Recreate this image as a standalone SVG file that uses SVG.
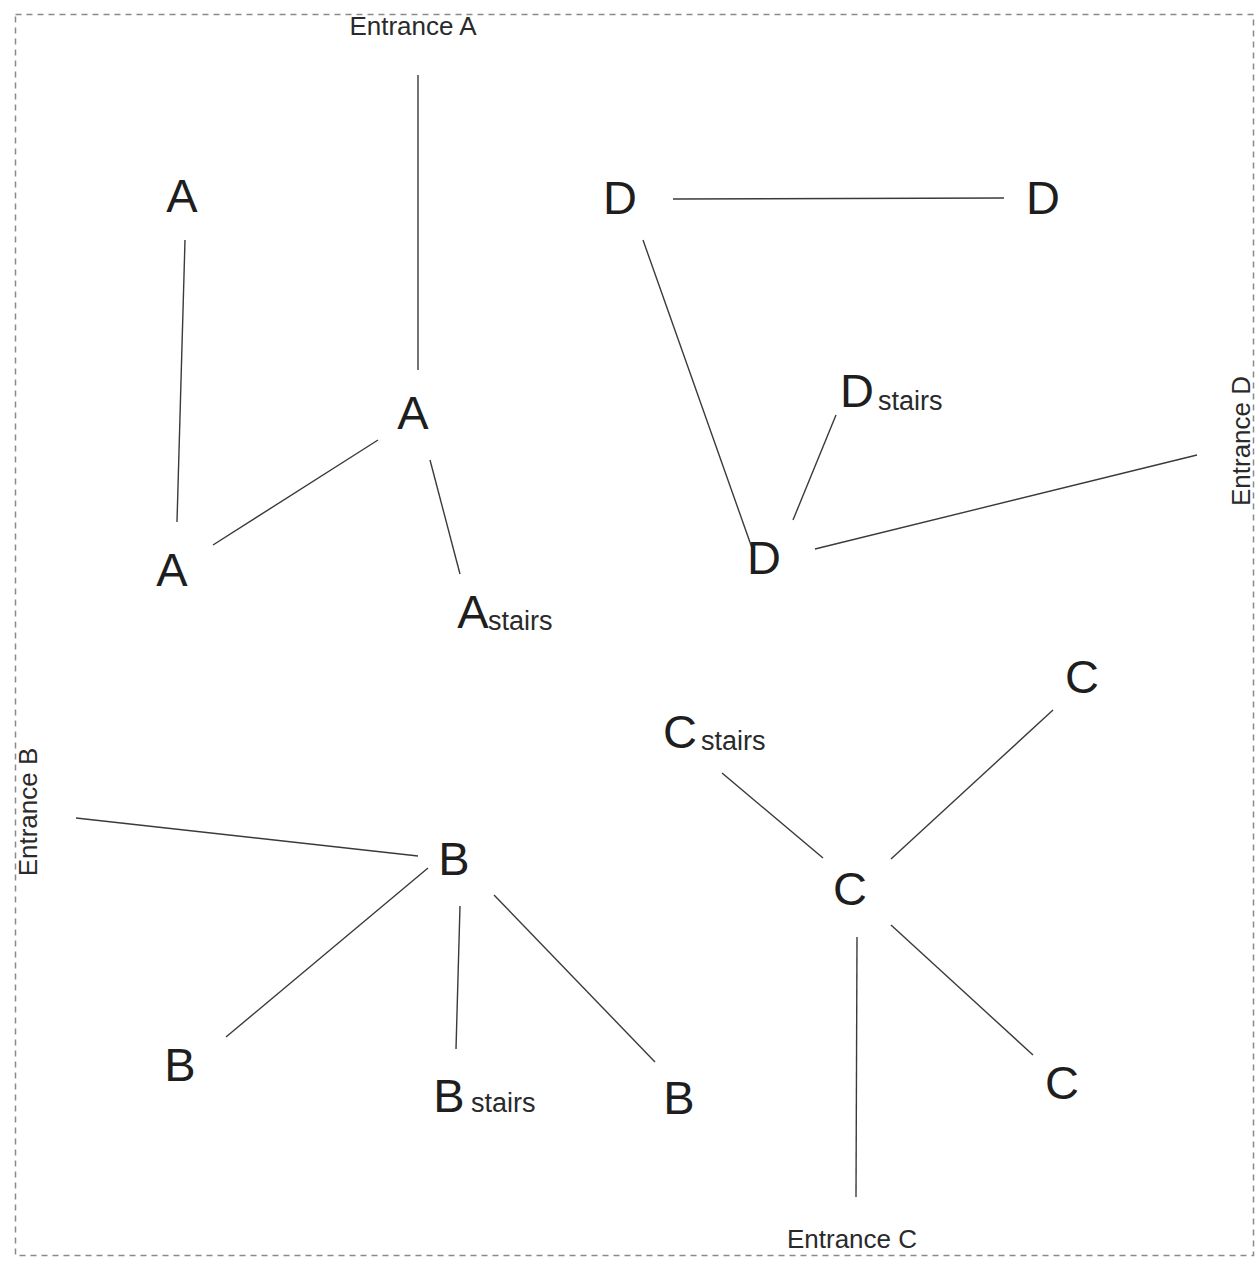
<svg xmlns="http://www.w3.org/2000/svg" width="1259" height="1263" viewBox="0 0 1259 1263">
<style>
.big{font-family:"Liberation Sans",Arial,sans-serif;font-size:47px;fill:#1e1e1e;text-anchor:middle}
.sub{font-family:"Liberation Sans",Arial,sans-serif;font-size:27px;fill:#2a2a2a}
.lbl{font-family:"Liberation Sans",Arial,sans-serif;font-size:26px;fill:#2a2a2a;text-anchor:middle}
.edge{stroke:#3a3a3a;stroke-width:1.4;fill:none}
</style>
<rect x="0" y="0" width="1259" height="1263" fill="#ffffff"/>
<rect x="15.5" y="14.5" width="1238" height="1241" fill="none" stroke="#8a8a8a" stroke-width="1.5" stroke-dasharray="6 5"/>
<g id="connectors">
<line class="edge" x1="418" y1="75" x2="418" y2="370"/>
<line class="edge" x1="185" y1="240" x2="177" y2="522"/>
<line class="edge" x1="213" y1="545" x2="378" y2="440"/>
<line class="edge" x1="430" y1="460" x2="460" y2="574"/>
<line class="edge" x1="673" y1="199" x2="1004" y2="198"/>
<line class="edge" x1="643" y1="240" x2="752" y2="548"/>
<line class="edge" x1="836" y1="415" x2="793" y2="520"/>
<line class="edge" x1="815" y1="549" x2="1197" y2="455"/>
<line class="edge" x1="722" y1="773" x2="823" y2="858"/>
<line class="edge" x1="1053" y1="710" x2="891" y2="859"/>
<line class="edge" x1="891" y1="925" x2="1033" y2="1055"/>
<line class="edge" x1="857" y1="937" x2="856" y2="1197"/>
<line class="edge" x1="76" y1="818" x2="418" y2="856"/>
<line class="edge" x1="428" y1="868" x2="226" y2="1037"/>
<line class="edge" x1="460" y1="906" x2="456" y2="1049"/>
<line class="edge" x1="494" y1="895" x2="655" y2="1062"/>
</g>
<g id="entranceA"><text class="lbl" x="413" y="35">Entrance A</text></g>
<g id="entranceB"><text class="lbl" transform="translate(37,812) rotate(-90)" x="0" y="0">Entrance B</text></g>
<g id="entranceC"><text class="lbl" x="852" y="1248">Entrance C</text></g>
<g id="entranceD"><text class="lbl" transform="translate(1250,441) rotate(-90)" x="0" y="0">Entrance D</text></g>
<g id="A1"><text class="big" x="182" y="212">A</text></g>
<g id="A2"><text class="big" x="413" y="429">A</text></g>
<g id="A3"><text class="big" x="172" y="586">A</text></g>
<g id="Astairs"><text class="big" x="473" y="628">A</text><text class="sub" x="488" y="630">stairs</text></g>
<g id="D1"><text class="big" x="620" y="214">D</text></g>
<g id="D2"><text class="big" x="1043" y="214">D</text></g>
<g id="Dstairs"><text class="big" x="857" y="407">D</text><text class="sub" x="878" y="410">stairs</text></g>
<g id="D3"><text class="big" x="764" y="574">D</text></g>
<g id="C1"><text class="big" x="1082" y="693">C</text></g>
<g id="Cstairs"><text class="big" x="680" y="748">C</text><text class="sub" x="701" y="750">stairs</text></g>
<g id="C2"><text class="big" x="850" y="905">C</text></g>
<g id="C3"><text class="big" x="1062" y="1099">C</text></g>
<g id="B1"><text class="big" x="454" y="875">B</text></g>
<g id="B2"><text class="big" x="180" y="1081">B</text></g>
<g id="Bstairs"><text class="big" x="449" y="1112">B</text><text class="sub" x="471" y="1112">stairs</text></g>
<g id="B3"><text class="big" x="679" y="1114">B</text></g>
</svg>
